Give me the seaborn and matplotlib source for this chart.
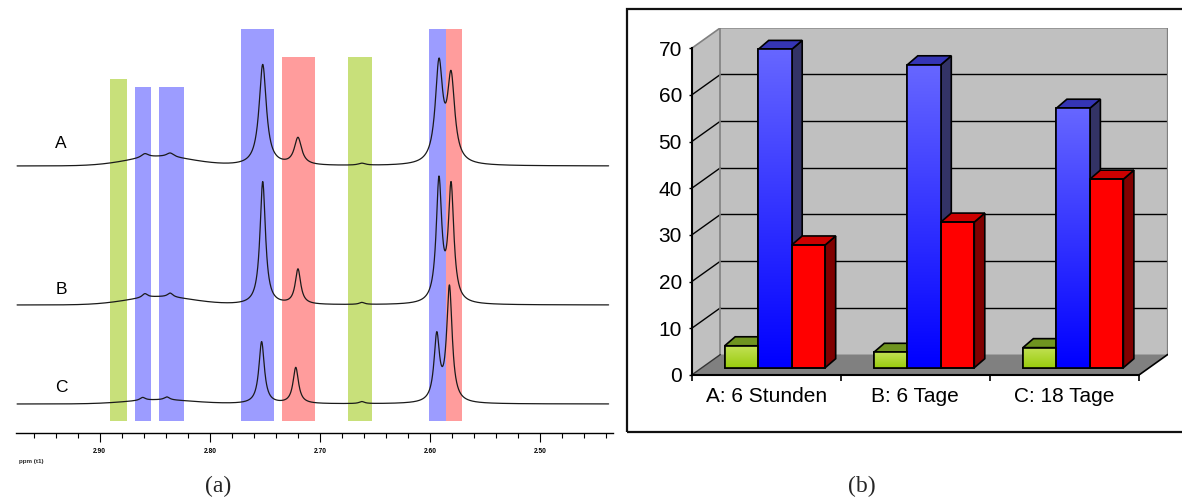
import numpy as np
import pandas as pd
import matplotlib
matplotlib.use("Agg")
import matplotlib.pyplot as plt
import seaborn as sns
from matplotlib.patches import Polygon, Rectangle
from matplotlib.ticker import MultipleLocator

# ---------------- data ----------------
# (a) 1H-NMR spectra: peak positions (ppm) and intensities
spectrum_names = ["A", "B", "C"]
peak_ppm_A = [2.859, 2.836, 2.752, 2.720, 2.662, 2.592, 2.581]
peak_int_A = [4, 4, 101, 27, 2, 98, 84]
peak_ppm_B = [2.859, 2.836, 2.752, 2.720, 2.662, 2.592, 2.581]
peak_int_B = [4, 4, 123, 35, 2, 121, 115]
peak_ppm_C = [2.861, 2.839, 2.753, 2.722, 2.662, 2.594, 2.5825]
peak_int_C = [3, 3, 62, 36, 2, 65, 115]
peak_width_ppm = [0.004, 0.003, 0.003]
hump_int = [9, 8, 4]
hump_ppm = 2.845
hump_sigma = 0.03

# integration regions (ppm)
region_from = [2.8909, 2.8682, 2.8464, 2.7718, 2.7345, 2.6745, 2.6009, 2.5855]
region_to = [2.8755, 2.8536, 2.8236, 2.7418, 2.7045, 2.6527, 2.5855, 2.5709]
region_group = ["grün", "blau", "blau", "blau", "rot", "grün", "blau", "rot"]

ppm_ticks = [2.90, 2.80, 2.70, 2.60, 2.50]
ppm_tick_labels = ["2.90", "2.80", "2.70", "2.60", "2.50"]

# (b) share of signal groups (%)
samples = ["A: 6 Stunden", "B: 6 Tage", "C: 18 Tage"]
share_green = [4.7, 3.3, 4.3]
share_blue = [68.2, 64.9, 55.6]
share_red = [26.3, 31.2, 40.4]
y_ticks_b = [0, 10, 20, 30, 40, 50, 60, 70]

# ---------------- figure ----------------
sns.set_theme(style="white")
plt.rcParams['font.family'] = ['Liberation Sans', 'DejaVu Sans']

W, H = 1182, 501
fig = plt.figure(figsize=(W / 100, H / 100), dpi=100)
fig.patch.set_facecolor("white")


def ax_at(x0, y0, x1, y1):
    return fig.add_axes([x0 / W, 1 - y1 / H, (x1 - x0) / W, (y1 - y0) / H])


def ftext(x, y, s, **kw):
    fig.text(x / W, 1 - y / H, s, **kw)


# ======== (a) spectra ========
ax = ax_at(16, 20, 613, 433)
ax.set_facecolor("white")

band_colors = {"grün": "#c8e07a", "blau": "#9c9cff", "rot": "#ff9c9c"}
band_top = [354, 346, 346, 404, 376, 376, 404, 404]
band_bottom = 12
for lo, hi, grp, top in zip(region_from, region_to, region_group, band_top):
    ax.bar((lo + hi) / 2, top - band_bottom, bottom=band_bottom,
           width=abs(hi - lo), color=band_colors[grp], linewidth=0, zorder=1)

xs = np.linspace(2.975, 2.438, 2400)
baselines = [267, 128, 29]
peak_sets = [(peak_ppm_A, peak_int_A), (peak_ppm_B, peak_int_B), (peak_ppm_C, peak_int_C)]
frames = []
for name, (pp, ii), g, hmp, base in zip(spectrum_names, peak_sets, peak_width_ppm,
                                        hump_int, baselines):
    y = hmp * np.exp(-0.5 * ((xs - hump_ppm) / hump_sigma) ** 2)
    for p, h in zip(pp, ii):
        y = y + h * g ** 2 / ((xs - p) ** 2 + g ** 2)
    frames.append(pd.DataFrame({"ppm": xs, "I": y + base, "spec": name}))
df_spec = pd.concat(frames, ignore_index=True)
sns.lineplot(data=df_spec, x="ppm", y="I", units="spec", estimator=None,
             sort=False, color="#1a1a1a", linewidth=0.9, ax=ax, zorder=2)

ax.set_xlim(2.976, 2.434)
ax.set_ylim(0, 413)
ax.set_xlabel("")
ax.set_ylabel("")
for s in ["left", "right", "top"]:
    ax.spines[s].set_visible(False)
ax.spines["bottom"].set_color("black")
ax.spines["bottom"].set_linewidth(1.0)
ax.set_yticks([])
ax.set_xticks(ppm_ticks)
ax.set_xticklabels(ppm_tick_labels, fontsize=4.8, fontweight="bold")
ax.xaxis.set_minor_locator(MultipleLocator(0.02))
ax.tick_params(axis="x", which="major", bottom=True, direction="out",
               length=6.5, width=0.8, pad=4, colors="black")
ax.tick_params(axis="x", which="minor", bottom=True, direction="out",
               length=3.5, width=0.8, colors="black")

label_pos = [(61, 143), (61, 289), (61, 388)]
for name, (lx, ly) in zip(spectrum_names, label_pos):
    ftext(lx, ly, name, fontsize=12.5, ha="center", va="center", color="black")
ftext(19, 462, "ppm (t1)", fontsize=4.5, fontweight="bold", ha="left", va="center")
ftext(218, 486, "(a)", fontsize=17, family=["Liberation Serif", "DejaVu Serif"],
      ha="center", va="center")
ftext(862, 486, "(b)", fontsize=17, family=["Liberation Serif", "DejaVu Serif"],
      ha="center", va="center")

# ======== (b) 3D bar chart ========
fig.patches.append(Rectangle((627 / W, 1 - 432 / H), (1200 - 627) / W, (432 - 9) / H,
                             transform=fig.transFigure, fill=False,
                             ec="#111111", lw=1.6))

axb = ax_at(691.7, 27.8, 1167.7, 375)
DX, DY = 0.1925, 4.39          # full depth of the box (data units)
FX, FY = 0.0583, 1.56          # front face offset of the bars
BDX, BDY = 0.0704, 1.93        # depth of the bars

hue_order = ["grün", "blau", "rot"]
palette = {"grün": "#9acd32", "blau": "#0000ff", "rot": "#ff0000"}
df_b = pd.DataFrame({
    "Probe": samples * 3,
    "Signal": ["grün"] * 3 + ["blau"] * 3 + ["rot"] * 3,
    "Anteil": share_green + share_blue + share_red,
})
sns.barplot(data=df_b, x="Probe", y="Anteil", hue="Signal", hue_order=hue_order,
            order=samples, palette=palette, width=0.674, dodge=True, saturation=1,
            errorbar=None, edgecolor="black", linewidth=1.2, legend=False,
            ax=axb, zorder=3)

bars = list(axb.patches)

# walls and floor
wall_c = "#c0c0c0"
axb.add_patch(Polygon([(-0.5, 0), (-0.5 + DX, DY), (-0.5 + DX, 70 + DY), (-0.5, 70)],
                      closed=True, fc=wall_c, ec="none", zorder=0.5))
axb.add_patch(Polygon([(-0.5 + DX, DY), (2.5 + DX, DY), (2.5 + DX, 70 + DY),
                       (-0.5 + DX, 70 + DY)], closed=True, fc=wall_c, ec="none",
                      zorder=0.5))
axb.add_patch(Polygon([(-0.5, 0), (2.5, 0), (2.5 + DX, DY), (-0.5 + DX, DY)],
                      closed=True, fc="#808080", ec="none", zorder=0.6))
for v in y_ticks_b[1:-1]:
    axb.plot([-0.5, -0.5 + DX], [v, v + DY], color="black", lw=1.0, zorder=0.7)
    axb.plot([-0.5 + DX, 2.5 + DX], [v + DY, v + DY], color="black", lw=1.0, zorder=0.7)
gray_edge = "#808080"
axb.plot([-0.5, -0.5 + DX, 2.5 + DX, 2.5 + DX], [70, 70 + DY, 70 + DY, DY],
         color=gray_edge, lw=1.2, zorder=0.8)
axb.plot([-0.5 + DX, -0.5 + DX], [DY, 70 + DY], color=gray_edge, lw=1.2, zorder=0.8)
axb.plot([-0.5, -0.5 + DX], [0, DY], color="#333333", lw=1.0, zorder=0.8)
axb.plot([2.5, 2.5 + DX], [0, DY], color="black", lw=1.2, zorder=0.8)

side_c = {"grün": "#4f6b10", "blau": "#333366", "rot": "#800000"}
top_c = {"grün": "#6f9420", "blau": "#3535b5", "rot": "#cc0000"}
grad = {"grün": ((0.76, 0.88, 0.33), (0.60, 0.80, 0.05)),
        "blau": ((0.40, 0.40, 1.0), (0.0, 0.0, 1.0))}


def which_group(p):
    fc = p.get_facecolor()[:3]
    best = None
    for k, c in palette.items():
        rgb = matplotlib.colors.to_rgb(c)
        d = sum((a - b) ** 2 for a, b in zip(fc, rgb))
        if best is None or d < best[0]:
            best = (d, k)
    return best[1]


for p in bars:
    grp = which_group(p)
    x, w, h = p.get_x(), p.get_width(), p.get_height()
    x = x + FX
    y = FY
    p.set_x(x)
    p.set_y(y)
    axb.add_patch(Polygon([(x + w, y), (x + w + BDX, y + BDY), (x + w + BDX, y + h + BDY),
                           (x + w, y + h)], closed=True, fc=side_c[grp], ec="black",
                          lw=1.2, zorder=2))
    axb.add_patch(Polygon([(x, y + h), (x + BDX, y + h + BDY), (x + w + BDX, y + h + BDY),
                           (x + w, y + h)], closed=True, fc=top_c[grp], ec="black",
                          lw=1.2, zorder=2))
    if grp in grad:
        c_top, c_bot = grad[grp]
        arr = np.linspace(0, 1, 64)[:, None, None]
        img = (1 - arr) * np.array(c_top)[None, None, :] + arr * np.array(c_bot)[None, None, :]
        im = axb.imshow(img, extent=[x, x + w, y, y + h], origin="upper",
                        aspect="auto", interpolation="bilinear", zorder=3.05)
        im.set_clip_path(p)
    axb.add_patch(Rectangle((x, y), w, h, fill=False, ec="black", lw=1.2, zorder=3.2))

axb.set_xlim(-0.5, 2.5 + DX)
axb.set_ylim(0, 70 + DY)
axb.set_facecolor("white")
axb.set_xlabel("")
axb.set_ylabel("")
axb.spines["top"].set_visible(False)
axb.spines["right"].set_visible(False)
for s in ["left", "bottom"]:
    axb.spines[s].set_color("black")
    axb.spines[s].set_linewidth(1.5)
    axb.spines[s].set_zorder(4)
axb.spines["left"].set_bounds(0, 70)
axb.spines["bottom"].set_bounds(-0.5, 2.5)

axb.set_yticks(y_ticks_b)
axb.set_yticklabels([str(v) for v in y_ticks_b], fontsize=15)
axb.tick_params(axis="y", which="major", left=True, direction="out", length=2.5,
                width=1.0, pad=4.5, colors="black")
axb.set_xticks([0, 1, 2])
axb.set_xticklabels(samples, fontsize=15)
axb.set_xticks([-0.5, 0.5, 1.5, 2.5], minor=True)
axb.tick_params(axis="x", which="major", bottom=True, length=0, pad=9, colors="black")
axb.tick_params(axis="x", which="minor", bottom=True, direction="out", length=4,
                width=1.2, colors="black")

fig.savefig("out.png", dpi=100, facecolor="white")
